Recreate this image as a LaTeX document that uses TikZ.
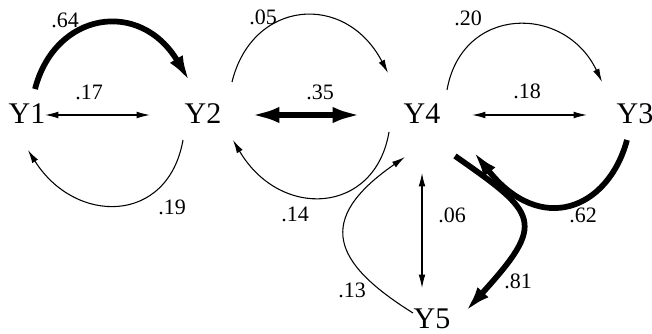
\documentclass[tikz,border=0pt]{standalone}
\usepackage{fontspec}
\setmainfont{Liberation Serif}
\usetikzlibrary{arrows.meta}

\begin{document}
\begin{tikzpicture}[x=0.75pt,y=-0.75pt,
  var/.style={font=\fontsize{22.5}{24}\selectfont,inner sep=0pt},
  lab/.style={font=\fontsize{16.5}{18}\selectfont,inner sep=0pt},
  thinarr/.style={line width=0.8pt,-{Latex[length=10pt,width=5pt]}},
  thinboth/.style={line width=0.8pt,{Latex[length=10pt,width=5pt]}-{Latex[length=10pt,width=5pt]}},
  fatarr/.style={line width=4.3pt,-{Latex[length=20pt,width=11pt]}},
  fatboth/.style={line width=4.8pt,{Latex[length=22pt,width=12pt]}-{Latex[length=22pt,width=12pt]}}]
  \useasboundingbox (0,0) rectangle (652,334);
  \node[var] (Y1) at (27,114) {Y1};
  \node[var] (Y2) at (203,114) {Y2};
  \node[var] (Y4) at (422,114) {Y4};
  \node[var] (Y3) at (635,114) {Y3};
  \node[var] (Y5) at (432,319) {Y5};
  % Y1 -- Y2
  \draw[fatarr] ([shift={(8,-25)}]Y1.center) .. controls +(20,-77) and +(-50,-84) .. ([shift={(-13,-32)}]Y2.center);
  \draw[thinboth] ([shift={(18,1)}]Y1.center) -- ([shift={(-53,1)}]Y2.center);
  \draw[thinarr] ([shift={(-20,26)}]Y2.center) .. controls +(-15,85) and +(47,75) .. ([shift={(1,36)}]Y1.center);
  % Y2 -- Y4
  \draw[thinarr] ([shift={(29,-32)}]Y2.center) .. controls +(20,-82) and +(-43,-82) .. ([shift={(-34,-41)}]Y4.center);
  \draw[fatboth] ([shift={(47,1)}]Y2.center) -- ([shift={(-60,1)}]Y4.center);
  \draw[thinarr] ([shift={(-33,18)}]Y4.center) .. controls +(-14,83) and +(47,80) .. ([shift={(30,26)}]Y2.center);
  % Y4 -- Y3
  \draw[thinarr] ([shift={(25,-24)}]Y4.center) .. controls +(15,-85) and +(-37,-78) .. ([shift={(-33,-32)}]Y3.center);
  \draw[thinboth] ([shift={(50,1)}]Y4.center) -- ([shift={(-48,1)}]Y3.center);
  \draw[fatarr] ([shift={(-8,26)}]Y3.center) .. controls +(-19,70) and +(67,85) .. ([shift={(51,37)}]Y4.center);
  % Y4 -- Y5
  \draw[fatarr] ([shift={(33,42)}]Y4.center) .. controls +(83,58) and +(82,-90) .. ([shift={(33,-7)}]Y5.center);
  \draw[thinarr] ([shift={(-19,-6)}]Y5.center) .. controls +(-80,-50) and +(-91,63) .. ([shift={(-17,43)}]Y4.center);
  \draw[thinboth] ([shift={(0,59)}]Y4.center) -- ([shift={(-10,-31)}]Y5.center);
  % weights
  \node[lab] (w64) at (65,20) {.64};
  \node[lab] (w17) at (89,92) {.17};
  \node[lab] (w19) at (172,207) {.19};
  \node[lab] (w05) at (263,17) {.05};
  \node[lab] (w35) at (320,92) {.35};
  \node[lab] (w14) at (295,214) {.14};
  \node[lab] (w20) at (468,18) {.20};
  \node[lab] (w18) at (527,91) {.18};
  \node[lab] (w62) at (583,215) {.62};
  \node[lab] (w06) at (452,215) {.06};
  \node[lab] (w81) at (518,281) {.81};
  \node[lab] (w13) at (352,290) {.13};
\end{tikzpicture}
\end{document}
